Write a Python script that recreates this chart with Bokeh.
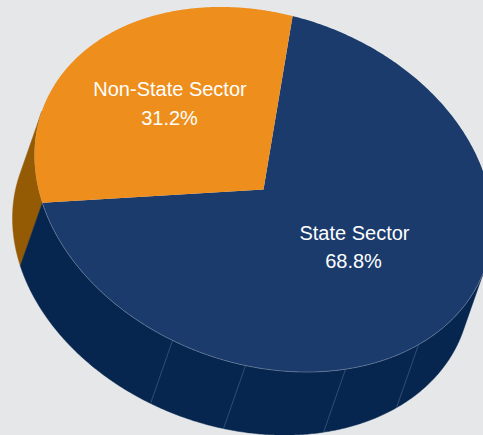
import numpy as np
from bokeh.plotting import figure
from bokeh.models import Range1d, ColumnDataSource
from bokeh.core.properties import value
from bokeh.embed import file_html
from bokeh.resources import INLINE

sectors = ["State Sector", "Non-State Sector"]
shares = [68.8, 31.2]
labels = ["68.8%", "31.2%"]

BG = "#E5E7E9"
TOP = ["#1B3B6D", "#EE8E1C"]
SIDE = ["#07264F", "#945A04"]

W, H = 483, 435
p = figure(width=W, height=H, output_backend="svg", toolbar_location=None,
           x_range=Range1d(0, W), y_range=Range1d(H, 0),
           background_fill_color=BG, border_fill_color=BG, outline_line_color=None,
           min_border=0)
p.axis.visible = False
p.grid.visible = False

CX, CY = 263.0, 189.0
AX, BX, BY = 229.0, 34.3, 179.3
DX, DY = -22.0, 63.0
START = np.radians(277.3)


def ex(t):
    return CX + AX * np.cos(t)


def ey(t):
    return CY + BX * np.cos(t) + BY * np.sin(t)


spans = []
a = START
for s in shares:
    b = a + np.radians(s * 3.6)
    spans.append((a, b))
    a = b

# where the extrusion direction is tangent to the rim: the wall is visible
# on the arc from T_RIGHT (front right) round to T_LEFT (left)
T_RIGHT = np.arctan2(-BY * DX, AX * DY - BX * DX)
T_LEFT = T_RIGHT + np.pi


def wall(t0, t1, color):
    t = np.linspace(t0, t1, 300)
    xs = np.concatenate([ex(t), ex(t[::-1]) + DX])
    ys = np.concatenate([ey(t), ey(t[::-1]) + DY])
    p.patch(xs, ys, fill_color=color, line_color=color, line_width=0.5)


split = spans[1][0] - 2 * np.pi if spans[1][0] > 2 * np.pi else spans[1][0]
wall(split, T_LEFT, SIDE[1])
wall(T_RIGHT, split, SIDE[0])

# faint seams of the side wall
for deg in [113.4, 94.5, 69.0, 47.4]:
    t = np.radians(deg)
    p.line([ex(t), ex(t) + DX], [ey(t), ey(t) + DY],
           line_color="#8A9BB5", line_width=0.6, line_alpha=0.55)

# top face
for i in range(2):
    t = np.linspace(spans[i][0], spans[i][1], 400)
    xs = np.concatenate([[CX], ex(t)])
    ys = np.concatenate([[CY], ey(t)])
    p.patch(xs, ys, fill_color=TOP[i], line_color=None)

# light rim along the front
t = np.linspace(T_RIGHT, split, 300)
p.line(ex(t), ey(t), line_color="#A9B6C8", line_width=0.6, line_alpha=0.7)

src = ColumnDataSource(dict(
    x=[354, 353, 169.5, 169],
    y=[232, 260, 88, 117],
    t=[sectors[0], labels[0], sectors[1], labels[1]],
))
p.text("x", "y", text="t", source=src, text_color="#FFFFFF", text_align="center",
       text_baseline="middle", text_font=value("Liberation Sans"), text_font_size="20px")

html = file_html(p, INLINE)
html = html.replace("<head>", "<head><style>html,body{margin:0;padding:0;overflow:hidden;background:%s}</style>" % BG, 1)
open("out.html", "w").write(html)
